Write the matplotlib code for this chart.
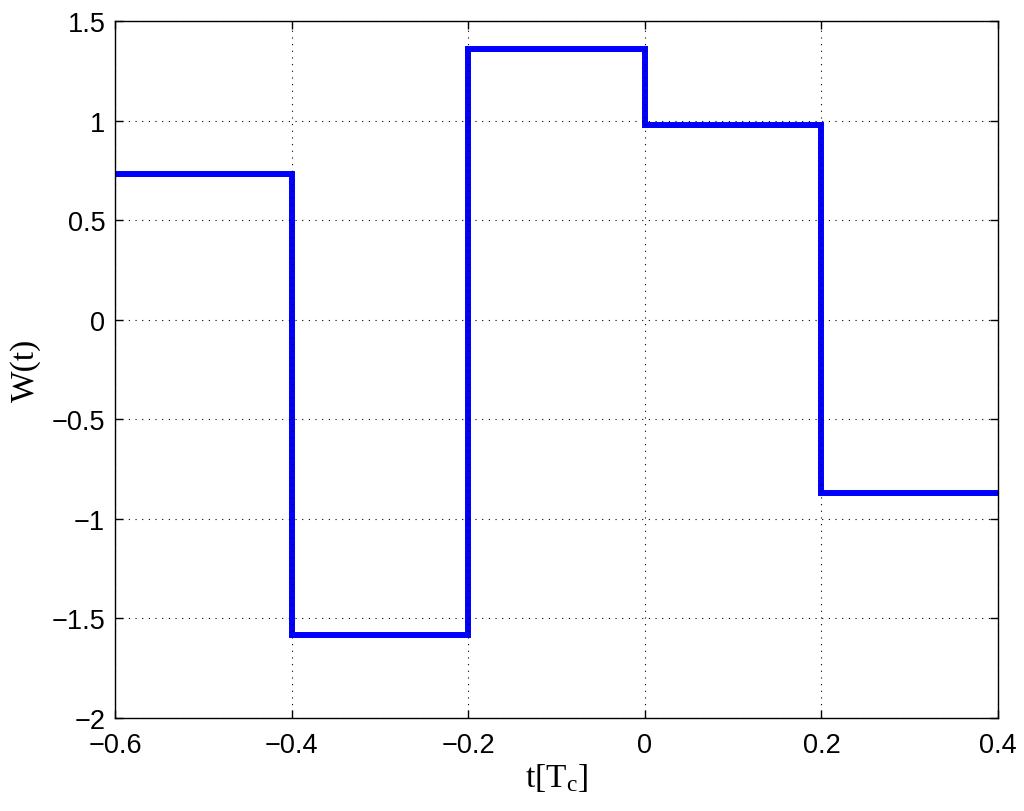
import matplotlib.pyplot as plt

plt.rcParams['mathtext.fontset'] = 'custom'
plt.rcParams['mathtext.rm'] = 'Liberation Serif'
plt.rcParams['mathtext.it'] = 'Liberation Serif:italic'

# step edges and levels of W(t)
edges = [-0.6, -0.4, -0.2, 0.0, 0.2, 0.4]
levels = [0.73, -1.585, 1.36, 0.98, -0.87]

xticks = [-0.6, -0.4, -0.2, 0, 0.2, 0.4]
yticks = [-2, -1.5, -1, -0.5, 0, 0.5, 1, 1.5]


def fmt(v):
    return ('%g' % v).replace('-', '\u2212')


fig = plt.figure(figsize=(10.24, 8.12), dpi=100)
ax = fig.add_axes([0.1123, 0.1145, 0.8623, 0.8584])

ax.stairs(levels, edges, color='#0000ff', linewidth=4.3, baseline=None)

ax.set_xlim(-0.6, 0.4)
ax.set_ylim(-2, 1.5)
ax.set_xticks(xticks)
ax.set_yticks(yticks)
ax.set_xticklabels([fmt(v) for v in xticks], fontfamily='Liberation Sans', fontsize=19.5)
ax.set_yticklabels([fmt(v) for v in yticks], fontfamily='Liberation Sans', fontsize=19.5)
ax.tick_params(direction='in', length=6, width=1, top=True, right=True)
ax.tick_params(axis='x', pad=10)
ax.tick_params(axis='y', pad=7)
ax.grid(True, linestyle=(0, (1, 5)), color='black', linewidth=0.8)

for sp in ax.spines.values():
    sp.set_linewidth(1)

ax.set_xlabel(r't[T$_{\mathrm{c}}$]', fontfamily='Liberation Serif', fontsize=24, labelpad=2)
ax.set_ylabel('W(t)', fontfamily='Liberation Serif', fontsize=24, labelpad=8)

fig.savefig('out.png', dpi=100)
plt.close()
